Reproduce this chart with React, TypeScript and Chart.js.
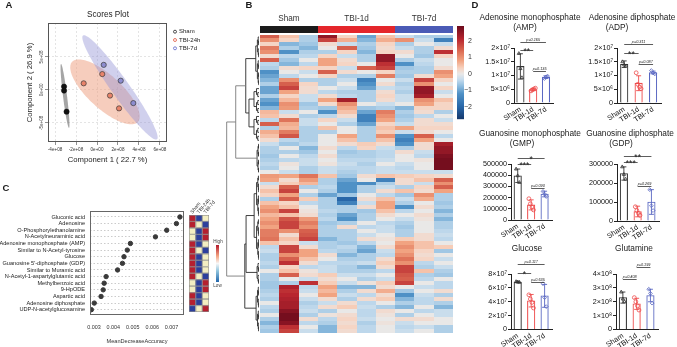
import React, { useEffect, useRef } from 'react';
import { Chart, registerables } from 'chart.js';

Chart.register(...registerables);
const FONT = "'Liberation Sans', Arial, Helvetica, sans-serif";
Chart.defaults.font.family = FONT;
Chart.defaults.color = '#222';

/* ---------------- Panel A : scores plot ---------------- */
const scoreGroups = ['Sham', 'TBI-24h', 'TBI-7d'];
const shamPC1 = [-3.14e8, -3.14e8, -2.9e8];
const shamPC2 = [0.5e8, -0.1e8, -3.3e8];
const tbi24PC1 = [-1.27e8, 0.5e8, 1.24e8, 2.1e8];
const tbi24PC2 = [1.0e8, 2.4e8, -0.86e8, -2.8e8];
const tbi7PC1 = [0.64e8, 2.26e8, 3.46e8];
const tbi7PC2 = [3.8e8, 1.4e8, -2.0e8];
// confidence ellipses: centre x, centre y, half-axis a (x, y), half-axis b (x, y) in data units
const shamEllipse = [-3.05e8, -0.91e8, 0.38e8, -4.85e8, 0.19e8, 0.04e8];
const tbi24Ellipse = [0.76e8, -0.3e8, 3.14e8, -4.55e8, 1.05e8, 1.89e8];
const tbi7Ellipse = [2.19e8, 0.38e8, 3.52e8, -7.88e8, 0.7e8, 0.79e8];
const scoreXRange = [-4.67e8, 6.67e8];
const scoreYRange = [-7.9e8, 10.15e8];
const scoreXTicks = [-4e8, -2e8, 0, 2e8, 4e8, 6e8];
const scoreYTicks = [-5e8, 0, 5e8];

/* ---------------- Panel B : heatmap ---------------- */
const heatGroups = ['Sham', 'TBI-1d', 'TBI-7d'];
const heatGroupSizes = [3, 4, 3];
const heatTop = [
  [1.5, 0.5, -0.5, 2.5, 0.3, -1.0, 0.5, -0.3, -0.5, -0.5],
  [1.0, 0.3, -0.5, 1.8, 0.7, -0.8, 0.7, 1.0, -0.3, -1.5],
  [0.3, -0.8, -0.6, 0.2, -0.3, -0.5, 0.3, -0.5, 0.0, -0.3],
  [1.2, -0.5, -0.8, 0.0, 1.5, -0.6, 0.2, -0.3, -0.5, 0.2],
  [1.0, -1.2, -0.5, -0.5, 0.3, -0.8, 0.3, 0.2, -0.5, 2.0],
  [0.2, -0.4, -0.4, 0.3, -0.3, -0.5, 2.5, 0.0, -0.6, 0.3],
  [1.5, -0.6, 0.0, 0.8, 0.2, -0.5, 2.5, -0.5, -0.3, 0.0],
  [-0.4, -0.8, -0.4, 0.8, 0.3, 0.0, 2.0, -1.2, -0.4, 0.0],
  [-0.5, 0.2, 0.3, 0.3, -0.3, 1.5, 1.8, -0.6, -0.5, 0.2],
  [-1.2, 0.0, -0.3, 1.5, 0.2, 0.0, 0.3, -0.5, -0.5, 1.0],
  [-1.0, -0.4, 0.0, 0.3, -0.5, -0.5, 1.2, -0.6, 0.2, 0.8],
  [-0.8, 1.0, -0.5, -0.5, -0.3, -1.5, 0.0, -0.3, 1.8, 0.3],
  [-0.5, 1.5, 0.3, -0.5, 0.0, -1.2, 0.2, -0.5, 1.0, 0.0],
  [-1.0, 1.8, 0.2, 0.0, -0.3, -1.0, -0.3, -0.4, 2.5, 0.3],
  [-1.0, 0.8, 0.2, -0.4, -0.5, -0.5, 0.2, -0.5, 2.5, -0.3],
  [-0.5, 0.3, -0.3, 0.2, -0.4, -0.5, 0.3, -0.3, 2.3, 0.0],
  [-1.0, 0.6, -0.3, 0.8, 2.3, -0.5, 0.2, -0.3, 1.0, 0.5],
  [-1.2, 1.0, -0.6, 0.2, 1.0, 0.0, -0.3, 0.0, 0.8, 0.3],
  [-0.8, 0.9, -0.5, -0.6, 0.7, -0.6, -0.5, -0.8, 0.3, 0.3],
  [0.6, -0.3, 0.0, -1.2, 0.5, -1.0, 1.2, -0.5, 0.2, -0.5],
  [0.5, 0.2, -0.5, -0.4, 0.2, -1.5, 1.0, -0.6, -0.4, 0.0],
  [-0.4, 1.3, -0.3, 0.3, -0.3, -1.5, 0.8, -0.5, 0.2, -0.3],
  [1.5, 0.7, -0.3, 0.0, -0.5, -1.0, 0.3, -0.3, 0.2, 0.2],
  [-0.5, 0.6, -0.5, 0.5, 0.0, -0.5, 0.5, 0.8, 0.3, 0.3],
  [0.7, 1.2, -0.5, -0.5, 0.0, -0.5, 0.4, -0.3, 0.2, 0.0],
];
const heatMid = [
  [0.5, 1.6, -0.5, 0.0, 0.8, -0.5, 1.0, -1.2, 1.5, -0.4],
  [0.2, -0.4, -0.5, 0.0, 0.5, -0.5, 0.5, -1.5, 0.8, 0.0],
  [-0.3, -0.6, -0.4, 0.0, 0.2, 0.4, 0.2, -1.2, 0.2, 2.3],
  [-0.5, 0.0, -0.8, 0.2, -0.4, 0.3, -0.3, -0.5, 0.2, 2.5],
  [-0.5, -0.5, -0.6, 0.0, -0.6, -0.5, -0.4, 0.2, -0.3, 2.5],
  [-0.6, 0.0, -0.4, 0.2, -0.5, -0.5, -0.4, 0.0, -0.4, 2.7],
  [-0.5, -0.4, -0.3, 0.0, -0.4, -0.4, -0.3, 0.0, 0.1, 2.8],
  [-0.4, 0.1, -0.3, 0.1, -0.3, -0.5, 0.0, -0.3, 0.0, 2.8],
  [-0.5, 0.0, -0.5, -0.3, -0.4, -0.4, -0.3, -0.4, 0.0, 2.8],
  [0.0, -0.3, -0.5, -0.3, -0.5, -0.4, -0.3, -0.3, -0.3, -0.3],
  [0.9, 0.8, 1.3, 0.5, -0.6, 0.2, 0.5, 0.4, 0.3, 0.2],
  [0.8, 0.2, 0.9, -0.5, -1.0, 0.0, -1.5, 0.2, 0.5, 1.5],
  [-0.3, 0.4, 0.6, -0.5, -1.2, -1.3, -0.5, 0.2, -0.3, 1.0],
  [0.2, 1.5, -0.5, -0.4, -1.2, -0.5, -0.3, -0.5, 0.3, 1.5],
  [0.5, 1.8, 0.0, -0.5, -1.2, -0.5, 0.2, 0.5, 0.2, 0.8],
  [0.3, 0.8, -0.5, -1.0, -0.6, 0.0, -0.4, -0.6, 1.0, -0.5],
  [-0.5, 1.5, 0.4, -0.5, -2.0, 0.2, 0.5, -0.3, 0.7, -0.5],
  [0.5, 0.3, -0.4, -0.5, -1.5, -0.3, 0.8, -0.5, 0.0, -0.6],
  [0.8, 0.5, 0.0, -0.5, -0.5, 0.2, 0.8, -1.2, 0.2, -0.5],
  [1.0, 1.8, 0.1, -0.4, -0.5, -0.6, 0.5, -0.4, 0.0, -0.8],
  [0.6, 0.5, 0.2, -0.5, -1.0, -0.5, 0.2, 0.0, 0.2, -0.5],
  [0.8, 1.6, 0.9, -0.4, -1.2, -0.5, 0.0, -0.3, 0.1, -0.8],
  [1.0, 1.8, 1.2, -0.6, -0.5, 0.0, -0.4, -0.5, 0.0, -0.5],
  [0.8, 1.8, 1.0, -0.5, 0.2, -0.4, -0.3, -0.6, 0.0, -0.5],
  [1.2, 1.0, 1.5, -0.5, -0.5, 0.0, -0.3, -0.5, 0.0, -0.4],
];
const heatBottom = [
  [1.2, 0.2, 1.6, -0.5, -0.5, -0.3, 0.0, -0.5, 0.2, -0.3],
  [1.3, 0.5, 1.8, -0.8, -0.5, 0.2, 0.1, 0.4, 0.2, -0.4],
  [0.5, 0.3, -0.3, -0.5, -0.6, -0.4, 0.0, 0.8, 0.5, 0.0],
  [-0.4, 1.8, 0.2, -0.5, -0.4, -0.8, 0.2, 1.0, 0.5, 0.4],
  [-0.3, 1.8, 0.8, -0.4, -0.5, -1.0, -0.3, 0.8, 0.3, -0.6],
  [-0.5, 1.0, 0.8, 0.2, -0.8, -0.5, -0.4, 1.0, 0.2, 0.0],
  [-0.5, 1.5, 0.5, 0.0, -0.5, -0.5, 0.2, 1.3, 0.3, -0.3],
  [-0.4, 2.0, 0.2, -0.4, -0.4, -0.3, 0.4, 1.0, -0.4, 0.0],
  [-0.5, 0.3, -0.4, -0.3, -0.5, -0.8, 0.2, 1.8, -0.5, -0.3],
  [0.0, 0.5, 0.1, -0.3, -0.5, -0.5, -0.4, 1.8, 0.5, -0.5],
  [-0.5, 1.5, 0.2, 0.4, -0.3, -0.3, 0.0, 1.6, -0.5, -0.6],
  [-0.5, 0.0, -0.3, 0.2, 0.0, -0.5, -0.3, 1.5, -0.4, 0.0],
  [-0.6, -0.5, 2.0, 0.4, -0.3, 0.1, 0.4, 1.8, 0.0, -0.4],
  [-0.6, 2.2, -0.4, 0.8, -0.8, -0.8, 0.2, 0.0, -0.3, -0.4],
  [-0.5, 2.0, -0.3, 0.6, -0.5, 0.2, 0.7, -0.6, 0.0, 0.2],
  [-0.4, 2.1, 0.0, 0.8, -0.3, -0.4, 0.2, -1.2, -0.3, -0.5],
  [-0.5, 2.2, -0.3, 0.2, -0.5, 0.2, 0.4, -0.8, -0.4, 0.2],
  [0.0, 2.3, -0.5, -0.3, 0.2, -0.4, 0.0, -0.5, -0.4, -0.5],
  [-0.4, 2.3, -0.4, 0.2, 0.4, -0.3, -0.5, -0.8, 0.0, -0.8],
  [-0.5, 2.6, -0.3, -0.5, 0.0, -0.4, 0.2, 0.0, -0.4, -0.3],
  [0.0, 2.8, -0.5, 0.1, 0.2, -0.4, 0.1, -0.5, 0.0, -0.3],
  [-0.5, 2.8, 0.2, -0.4, 0.3, -0.3, 0.0, 0.2, 0.2, 0.0],
  [-0.8, 2.6, -0.4, -0.5, 0.2, -0.5, 0.1, -0.3, 0.0, 0.0],
  [-0.5, 2.0, 0.0, -0.8, 0.3, -0.4, 0.0, -0.4, -0.3, -0.5],
  [-0.6, 1.8, -0.3, -0.8, 0.2, -0.4, 0.0, -0.3, 0.0, -0.5],
];
const heatLegendTicks = [2, 1, 0, -1, -2];
const heatRange = [-2.73, 2.9];
// dendrogram: [height, left, right] or [height, number of leaves in a tight cluster]
const dendroTree = [10, [7.2, [4.1, [1.0, 13], [3.1, 14]], [0.6, 8]], [4.4, [4.0, [1.5, 22], [0.6, 6]], [0.9, 12]]];
const dendroMaxHeight = 11.45;

/* ---------------- Panel C : random forest importance ---------------- */
const mdaNames = [
  'Gluconic acid', 'Adenosine', 'O-Phosphorylethanolamine', 'N-Acetylneuraminic acid',
  'Adenosine monophosphate (AMP)', 'Similar to N-Acetyl-tyrosine', 'Glucose',
  "Guanosine 5'-diphosphate (GDP)", 'Similar to Muramic acid', 'N-Acetyl-1-aspartylglutamic acid',
  'Methylbenzoic acid', '9-HpODE', 'Aspartic acid', 'Adenosine diphosphate', 'UDP-N-acetylglucosamine',
];
const mdaValues = [0.00743, 0.00725, 0.00675, 0.00617, 0.00488, 0.00472, 0.00455, 0.00447, 0.00422, 0.00363, 0.00353, 0.00348, 0.00337, 0.00302, 0.00287];
const mdaGroups = ['Sham', 'TBI-24h', 'TBI-7d'];
const mdaLevels = [
  [1, -1, 0], [1, 0, -1], [0, -1, 1], [0, -1, 1], [1, -1, 0], [1, 0, -1], [1, -1, 0], [1, -1, 0],
  [1, -1, 0], [1, 0, -1], [0, -1, 1], [0, -1, 1], [1, -1, 0], [1, -1, 0], [-1, 0, 1],
];
const mdaXRange = [0.0028, 0.00764];
const mdaXTicks = [0.003, 0.004, 0.005, 0.006, 0.007];

/* ---------------- Panel D : bar charts ---------------- */
const groupLabels = ['Sham', 'TBI-1d', 'TBI-7d'];

const ampMean = [1.33e7, 4.9e6, 9.4e6];
const ampSd = [4.6e6, 4e5, 5e5];
const ampSham = [1.8e7, 1.25e7, 9.2e6];
const amp1d = [4.4e6, 4.8e6, 5.1e6, 5.4e6];
const amp7d = [8.9e6, 9.4e6, 9.8e6];
const ampTicks = ['0', '5×10⁶', '1×10⁷', '1.5×10⁷', '2×10⁷'];
const ampStats = [[0, 2, 2.23e7, 'p=0.165'], [0, 1, 1.93e7, '**'], [1, 2, 1.16e7, 'p=0.135']];

const adpMean = [1.41e7, 7.2e6, 1.11e7];
const adpSd = [1.2e6, 2.7e6, 5e5];
const adpSham = [1.5e7, 1.38e7, 1.35e7];
const adp1d = [1.1e7, 6.8e6, 5.8e6, 5.2e6];
const adp7d = [1.18e7, 1.1e7, 1.06e7];
const adpTicks = ['0', '5×10⁶', '1×10⁷', '1.5×10⁷', '2×10⁷'];
const adpStats = [[0, 2, 2.13e7, 'p=0.311'], [0, 1, 1.83e7, '**'], [1, 2, 1.41e7, 'p=0.087']];

const gmpMean = [3.95e5, 1.35e5, 2.32e5];
const gmpSd = [6e4, 4.5e4, 2.5e4];
const gmpSham = [4.55e5, 3.95e5, 3.35e5];
const gmp1d = [1.9e5, 1.45e5, 1.15e5, 9e4];
const gmp7d = [2.55e5, 2.3e5, 2.1e5];
const gmpTicks = ['0', '100000', '200000', '300000', '400000', '500000'];
const gmpStats = [[0, 2, 5.5e5, '*'], [0, 1, 4.97e5, '***'], [1, 2, 2.88e5, 'p=0.090']];

const gdpMean = [2.5e5, 5e4, 1.0e5];
const gdpSd = [3.5e4, 2.8e4, 6.5e4];
const gdpSham = [2.85e5, 2.45e5, 2.2e5];
const gdp1d = [7.5e4, 5.5e4, 4e4, 3e4];
const gdp7d = [1.65e5, 8e4, 5.5e4];
const gdpTicks = ['0', '100000', '200000', '300000'];
const gdpStats = [[0, 2, 3.44e5, '**'], [0, 1, 3.12e5, '***'], [1, 2, 1.86e5, 'p=0.269']];

const glcMean = [6.85e7, 4.15e7, 4.85e7];
const glcSd = [1e6, 9e6, 1.65e7];
const glcSham = [6.9e7, 6.85e7, 6.8e7];
const glc1d = [5.0e7, 4.4e7, 3.9e7, 3.1e7];
const glc7d = [6.6e7, 4.6e7, 3.3e7];
const glcTicks = ['0', '2×10⁷', '4×10⁷', '6×10⁷', '8×10⁷'];
const glcStats = [[0, 2, 9.44e7, 'p=0.117'], [0, 1, 8.1e7, '*'], [1, 2, 6.8e7, 'p=0.635']];

const glnMean = [2.3e8, 1.85e8, 2.45e8];
const glnSd = [4e7, 4e7, 4.5e7];
const glnSham = [2.7e8, 2.2e8, 2.0e8];
const gln1d = [2.3e8, 2.0e8, 1.7e8, 1.4e8];
const gln7d = [2.9e8, 2.6e8, 1.9e8];
const glnTicks = ['0', '1×10⁸', '2×10⁸', '3×10⁸', '4×10⁸'];
const glnStats = [[0, 1, 3.61e8, 'p=0.408'], [1, 2, 4.47e8, 'p=0.199']];

/* ---------------- helpers ---------------- */
type Box = { l: number; t: number; w: number; h: number };
type Area = { l: number; t: number; r: number; b: number };

function pad(box: Box, area: Area, yW = 0, xH = 0) {
  return {
    left: area.l - box.l - yW,
    top: area.t - box.t,
    right: box.l + box.w - area.r,
    bottom: box.t + box.h - area.b - xH,
  };
}
function base(padding: any) {
  return {
    responsive: false,
    animation: false,
    devicePixelRatio: 1,
    events: [],
    layout: { padding },
    plugins: { legend: { display: false }, tooltip: { enabled: false } },
  };
}
const fixTicks = (values: number[]) => (s: any) => {
  s.ticks = values.map((v) => ({ value: v }));
};
const framePlugin = (color: string) => ({
  id: 'frame',
  afterDraw(chart: any) {
    const { ctx, chartArea: a } = chart;
    ctx.save();
    ctx.strokeStyle = color;
    ctx.lineWidth = 1;
    ctx.strokeRect(Math.round(a.left) + 0.5, Math.round(a.top) + 0.5, Math.round(a.right - a.left) - 1, Math.round(a.bottom - a.top) - 1);
    ctx.restore();
  },
});

// diverging colour ramp (value stop -> colour)
const rampStops = [-2.73, -2.0, -1.2, -0.7, -0.35, 0, 0.35, 0.8, 1.4, 2.1, 2.9];
const rampColors = ['#15396d', '#2866a8', '#4f91c6', '#93bfe0', '#c4dbed', '#e9e8e7', '#f7d2bf', '#f1a381', '#db6a52', '#b8262f', '#6b0a1c'];
function hex(h: string) {
  return [parseInt(h.slice(1, 3), 16), parseInt(h.slice(3, 5), 16), parseInt(h.slice(5, 7), 16)];
}
function heatColor(v: number) {
  const x = Math.max(rampStops[0], Math.min(rampStops[rampStops.length - 1], v));
  let i = 0;
  while (i < rampStops.length - 2 && x > rampStops[i + 1]) i++;
  const u = (x - rampStops[i]) / (rampStops[i + 1] - rampStops[i]);
  const a = hex(rampColors[i]);
  const b = hex(rampColors[i + 1]);
  const c = a.map((q, k) => Math.round(q + (b[k] - q) * u));
  return `rgb(${c[0]},${c[1]},${c[2]})`;
}

function sciLabel(v: number) {
  if (Math.abs(v) < 1) return '0e+00';
  const e = Math.floor(Math.log10(Math.abs(v)) + 1e-9);
  const m = Math.round(v / Math.pow(10, e));
  return `${m}e+${e < 10 ? '0' : ''}${e}`;
}

/* ---------------- Panel A config ---------------- */
function scoresConfig(box: Box, area: Area) {
  const yW = 27;
  const xH = 26;
  const pts = (xs: number[], ys: number[]) => xs.map((v, i) => ({ x: v, y: ys[i] }));
  const ellipses = [
    { p: shamEllipse, fill: 'rgba(105,105,105,0.6)' },
    { p: tbi24Ellipse, fill: 'rgba(238,160,128,0.52)' },
    { p: tbi7Ellipse, fill: 'rgba(150,150,215,0.45)' },
  ];
  const legendColors = ['#222', '#e0563c', '#5a64c8'];
  return {
    type: 'scatter',
    data: {
      datasets: [
        { label: scoreGroups[0], data: pts(shamPC1, shamPC2), backgroundColor: '#111', borderColor: '#111', pointRadius: 2.6, borderWidth: 0.6 },
        { label: scoreGroups[1], data: pts(tbi24PC1, tbi24PC2), backgroundColor: '#e8836a', borderColor: '#3a3a3a', pointRadius: 2.6, borderWidth: 0.7 },
        { label: scoreGroups[2], data: pts(tbi7PC1, tbi7PC2), backgroundColor: '#8d8dd0', borderColor: '#3a3a3a', pointRadius: 2.6, borderWidth: 0.7 },
      ],
    },
    options: {
      ...base(pad(box, area, yW, xH)),
      scales: {
        x: {
          type: 'linear', min: scoreXRange[0], max: scoreXRange[1],
          afterBuildTicks: fixTicks(scoreXTicks),
          afterFit: (s: any) => { s.height = xH; },
          grid: { color: '#d2d2d2', tickColor: '#444', tickLength: 3, lineWidth: 0.6 },
          border: { display: false, dash: [2, 2] },
          ticks: { autoSkip: false, font: { size: 4.6 }, color: '#333', padding: 1.5, maxRotation: 0, callback: (v: number) => sciLabel(v) },
          title: { display: true, text: 'Component 1 ( 22.7 %)', font: { size: 7.7 }, color: '#222', padding: { top: 0, bottom: 3 } },
        },
        y: {
          type: 'linear', min: scoreYRange[0], max: scoreYRange[1],
          afterBuildTicks: fixTicks(scoreYTicks),
          afterFit: (s: any) => { s.width = yW; },
          grid: { color: '#d2d2d2', tickColor: '#444', tickLength: 3, lineWidth: 0.6 },
          border: { display: false, dash: [2, 2] },
          ticks: { autoSkip: false, font: { size: 4.6 }, color: '#333', padding: -4, minRotation: 90, maxRotation: 90, crossAlign: 'center', callback: (v: number) => sciLabel(v) },
          title: { display: true, text: 'Component 2 ( 26.9 %)', font: { size: 7.7 }, color: '#222', padding: { top: 4, bottom: 0 } },
        },
      },
    },
    plugins: [
      {
        id: 'ellipses',
        beforeDatasetsDraw(chart: any) {
          const { ctx, chartArea: a, scales } = chart;
          ctx.save();
          ctx.beginPath();
          ctx.rect(a.left, a.top, a.right - a.left, a.bottom - a.top);
          ctx.clip();
          for (const e of ellipses) {
            const [cx, cy, ax, ay, bx, by] = e.p;
            ctx.beginPath();
            for (let k = 0; k <= 120; k++) {
              const t = (k / 120) * Math.PI * 2;
              const px = scales.x.getPixelForValue(cx + ax * Math.cos(t) + bx * Math.sin(t));
              const py = scales.y.getPixelForValue(cy + ay * Math.cos(t) + by * Math.sin(t));
              if (k === 0) ctx.moveTo(px, py); else ctx.lineTo(px, py);
            }
            ctx.closePath();
            ctx.fillStyle = e.fill;
            ctx.fill();
          }
          ctx.restore();
        },
      },
      framePlugin('#555'),
      {
        id: 'scoreLegend',
        afterDraw(chart: any) {
          const { ctx, chartArea: a } = chart;
          ctx.save();
          ctx.font = `6px ${FONT}`;
          ctx.textBaseline = 'middle';
          ctx.textAlign = 'left';
          scoreGroups.forEach((g, i) => {
            const y = a.top + 8.7 + i * 8.3;
            ctx.beginPath();
            ctx.arc(a.right + 8, y, 1.5, 0, Math.PI * 2);
            ctx.strokeStyle = legendColors[i];
            ctx.lineWidth = 0.8;
            ctx.stroke();
            ctx.fillStyle = '#222';
            ctx.fillText(g, a.right + 12, y);
          });
          ctx.restore();
        },
      },
    ],
  };
}

/* ---------------- Panel B configs ---------------- */
function heatConfig(box: Box, area: Area) {
  const rows = [...heatTop, ...heatMid, ...heatBottom];
  const nCol = heatGroupSizes.reduce((s, v) => s + v, 0);
  const groupColors = ['#1b1b1b', '#e4262b', '#4b5bb6'];
  return {
    type: 'scatter',
    data: { datasets: [] },
    options: {
      ...base(pad(box, area)),
      scales: {
        x: { type: 'linear', display: false, min: 0, max: nCol },
        y: { type: 'linear', display: false, min: 0, max: rows.length, reverse: true },
      },
    },
    plugins: [
      {
        id: 'heat',
        afterDraw(chart: any) {
          const { ctx, chartArea: a, scales } = chart;
          const xs = scales.x;
          const ys = scales.y;
          ctx.save();
          rows.forEach((row, r) => {
            const y0 = Math.floor(ys.getPixelForValue(r));
            const y1 = Math.ceil(ys.getPixelForValue(r + 1));
            row.forEach((v, c) => {
              const x0 = Math.round(xs.getPixelForValue(c));
              const x1 = Math.round(xs.getPixelForValue(c + 1));
              ctx.fillStyle = heatColor(v);
              ctx.fillRect(x0, y0, x1 - x0, y1 - y0);
            });
          });
          // group annotation bar
          let c0 = 0;
          heatGroups.forEach((g, i) => {
            const c1 = c0 + heatGroupSizes[i];
            const x0 = Math.round(xs.getPixelForValue(c0));
            const x1 = Math.round(xs.getPixelForValue(c1));
            ctx.fillStyle = groupColors[i];
            ctx.fillRect(x0, a.top - 9, x1 - x0, 7);
            ctx.fillStyle = '#333';
            ctx.font = `8.2px ${FONT}`;
            ctx.textAlign = 'center';
            ctx.textBaseline = 'middle';
            ctx.fillText(g, (x0 + x1) / 2, a.top - 16);
            c0 = c1;
          });
          // colour key
          const kx = a.right + 4;
          const kTop = a.top - 9;
          const kH = 93;
          const [lo, hi] = heatRange;
          for (let p = 0; p < kH; p++) {
            const v = hi - ((p + 0.5) / kH) * (hi - lo);
            ctx.fillStyle = heatColor(v);
            ctx.fillRect(kx, kTop + p, 7, 1.2);
          }
          ctx.fillStyle = '#333';
          ctx.font = `7px ${FONT}`;
          ctx.textAlign = 'right';
          ctx.textBaseline = 'middle';
          heatLegendTicks.forEach((t) => {
            const py = kTop + ((hi - t) / (hi - lo)) * kH;
            ctx.fillText(t < 0 ? `\u2212${-t}` : `${t}`, kx + 15, py);
          });
          ctx.restore();
        },
      },
    ],
  };
}

type DRes = { pos: number; h: number; end: number };
function joinNodes(h: number, l: DRes, r: DRes, segs: number[][]) {
  segs.push([h, l.pos, h, r.pos]);
  segs.push([l.h, l.pos, h, l.pos]);
  segs.push([r.h, r.pos, h, r.pos]);
}
function leafGroup(n: number, h: number, start: number, segs: number[][]): DRes {
  if (n === 1) return { pos: start + 0.5, h: 0, end: start + 1 };
  const nl = Math.floor(n / 2);
  const l = leafGroup(nl, nl > 1 ? h * 0.5 : 0, start, segs);
  const r = leafGroup(n - nl, n - nl > 1 ? h * 0.5 : 0, start + nl, segs);
  joinNodes(h, l, r, segs);
  return { pos: (l.pos + r.pos) / 2, h, end: r.end };
}
function buildDendro(node: any, start: number, segs: number[][]): DRes {
  if (node.length === 2 && typeof node[1] === 'number') return leafGroup(node[1], node[0], start, segs);
  const l = buildDendro(node[1], start, segs);
  const r = buildDendro(node[2], l.end, segs);
  joinNodes(node[0], l, r, segs);
  return { pos: (l.pos + r.pos) / 2, h: node[0], end: r.end };
}
function dendroConfig(box: Box) {
  const segs: number[][] = [];
  const res = buildDendro(dendroTree, 0, segs);
  return {
    type: 'scatter',
    data: { datasets: [] },
    options: {
      ...base(0),
      scales: {
        x: { type: 'linear', display: false, min: 0, max: dendroMaxHeight, reverse: true },
        y: { type: 'linear', display: false, min: 0, max: res.end, reverse: true },
      },
    },
    plugins: [
      {
        id: 'dendro',
        afterDraw(chart: any) {
          const { ctx, scales } = chart;
          ctx.save();
          ctx.lineWidth = 0.9;
          segs.forEach((s) => {
            ctx.strokeStyle = Math.max(s[0], s[2]) > 5 ? '#7a7a7a' : '#2a2a2a';
            ctx.beginPath();
            ctx.moveTo(scales.x.getPixelForValue(s[0]), scales.y.getPixelForValue(s[1]));
            ctx.lineTo(scales.x.getPixelForValue(s[2]), scales.y.getPixelForValue(s[3]));
            ctx.stroke();
          });
          ctx.restore();
        },
      },
    ],
  };
}

/* ---------------- Panel C configs ---------------- */
function mdaConfig(box: Box, area: Area) {
  const yW = area.l - box.l;
  const xH = box.t + box.h - area.b;
  return {
    type: 'scatter',
    data: {
      datasets: [
        { data: mdaValues.map((v, i) => ({ x: v, y: i })), backgroundColor: '#3a3a3a', borderColor: '#3a3a3a', pointRadius: 2.2 },
      ],
    },
    options: {
      ...base(pad(box, area, yW, xH)),
      scales: {
        x: {
          type: 'linear', min: mdaXRange[0], max: mdaXRange[1],
          afterBuildTicks: fixTicks(mdaXTicks),
          afterFit: (s: any) => { s.height = xH; },
          grid: { display: false, drawTicks: false, tickLength: 0 },
          border: { display: false },
          ticks: { autoSkip: false, font: { size: 5.4 }, color: '#333', padding: 9, maxRotation: 0, callback: (v: number) => v.toFixed(3) },
          title: { display: true, text: 'MeanDecreaseAccuracy', font: { size: 5.6 }, color: '#333', padding: { top: 0, bottom: 2 } },
        },
        y: {
          type: 'linear', min: -0.9, max: 14.8, reverse: true,
          afterBuildTicks: fixTicks(mdaNames.map((_n, i) => i)),
          afterFit: (s: any) => { s.width = yW; },
          grid: { color: '#a8a8a8', drawTicks: false, tickLength: 0, lineWidth: 0.6 },
          border: { display: false, dash: [1.5, 2] },
          ticks: { autoSkip: false, font: { size: 5.6 }, color: '#222', padding: 5, callback: (v: number) => mdaNames[v] ?? '' },
        },
      },
    },
    plugins: [framePlugin('#666')],
  };
}

function mdaHeatConfig(box: Box, area: Area) {
  const levelColors: Record<string, string> = { '1': '#b5202f', '0': '#f3eec2', '-1': '#2c3f9c' };
  return {
    type: 'scatter',
    data: { datasets: [] },
    options: {
      ...base(pad(box, area)),
      scales: {
        x: { type: 'linear', display: false, min: 0, max: mdaGroups.length },
        y: { type: 'linear', display: false, min: -0.5, max: mdaLevels.length - 0.5, reverse: true },
      },
    },
    plugins: [
      {
        id: 'mdaHeat',
        afterDraw(chart: any) {
          const { ctx, chartArea: a, scales } = chart;
          const xs = scales.x;
          const ys = scales.y;
          ctx.save();
          mdaLevels.forEach((row, r) => {
            const y0 = ys.getPixelForValue(r - 0.5);
            const y1 = ys.getPixelForValue(r + 0.5);
            row.forEach((lv, c) => {
              const x0 = xs.getPixelForValue(c);
              const x1 = xs.getPixelForValue(c + 1);
              ctx.fillStyle = levelColors[String(lv)];
              ctx.fillRect(x0, y0, x1 - x0, y1 - y0);
              ctx.strokeStyle = '#8c8c8c';
              ctx.lineWidth = 0.6;
              ctx.strokeRect(x0 + 0.3, y0 + 0.3, x1 - x0 - 0.6, y1 - y0 - 0.6);
            });
          });
          ctx.fillStyle = '#333';
          ctx.font = `5px ${FONT}`;
          ctx.textAlign = 'left';
          ctx.textBaseline = 'middle';
          mdaGroups.forEach((g, c) => {
            ctx.save();
            ctx.translate(xs.getPixelForValue(c + 0.5) - 1, a.top - 2);
            ctx.rotate((-50 * Math.PI) / 180);
            ctx.fillText(g, 0, 0);
            ctx.restore();
          });
          // colour key High / Low
          const kx = a.right + 7;
          const kTop = a.top + 30;
          const kH = 37;
          const grad = ctx.createLinearGradient(0, kTop, 0, kTop + kH);
          grad.addColorStop(0, '#b2182b');
          grad.addColorStop(0.3, '#f4a582');
          grad.addColorStop(0.5, '#f7f7f7');
          grad.addColorStop(0.7, '#92c5de');
          grad.addColorStop(1, '#2166ac');
          ctx.fillStyle = grad;
          ctx.fillRect(kx, kTop, 3, kH);
          ctx.fillStyle = '#444';
          ctx.font = `4.6px ${FONT}`;
          ctx.textAlign = 'center';
          ctx.textBaseline = 'bottom';
          ctx.fillText('High', kx + 2, kTop - 1);
          ctx.textBaseline = 'top';
          ctx.fillText('Low', kx + 1.5, kTop + kH + 1);
          ctx.restore();
        },
      },
    ],
  };
}

/* ---------------- Panel D config ---------------- */
const groupColors = ['#333333', '#ee4b4b', '#5967c2'];
const groupMarkers = ['triangle', 'circle', 'rectRot'];

type BarSpec = {
  box: Box; area: Area; mean: number[]; sd: number[]; points: number[][];
  step: number; ticks: string[]; stats: any[];
};
function barConfig(s: BarSpec) {
  const yW = s.area.l - s.box.l;
  const xH = s.box.t + s.box.h - s.area.b;
  const yTicks = s.ticks.map((_t, i) => i * s.step);
  const spread = (n: number) => (n === 4 ? [-0.17, -0.06, 0.06, 0.17] : [-0.12, 0, 0.12]);
  const pointSets = s.points.map((arr, g) => ({
    type: 'scatter',
    data: arr.map((v, k) => ({ x: g + spread(arr.length)[k], y: v })),
    pointStyle: groupMarkers[g],
    pointRadius: 1.9,
    backgroundColor: 'rgba(255,255,255,0)',
    borderColor: groupColors[g],
    borderWidth: 0.8,
    clip: false,
    order: 0,
  }));
  return {
    type: 'bar',
    data: {
      datasets: [
        {
          type: 'bar',
          data: s.mean.map((m, i) => ({ x: i, y: m })),
          backgroundColor: '#ffffff',
          borderColor: groupColors,
          borderWidth: 1.1,
          barThickness: 7.5,
          order: 2,
        },
        ...pointSets,
      ],
    },
    options: {
      ...base(pad(s.box, s.area, yW, xH)),
      scales: {
        x: {
          type: 'linear', offset: false, min: -0.5, max: 2.55,
          afterBuildTicks: fixTicks([0, 1, 2]),
          afterFit: (sc: any) => { sc.height = xH; },
          grid: { display: false, offset: false, drawTicks: false, tickLength: 0 },
          border: { display: true, color: '#222', width: 1 },
          ticks: { autoSkip: false, minRotation: 33, maxRotation: 33, padding: 2, font: { size: 7.3 }, color: '#111', callback: (v: number) => groupLabels[v] ?? '' },
        },
        y: {
          type: 'linear', min: 0, max: yTicks[yTicks.length - 1],
          afterBuildTicks: fixTicks(yTicks),
          afterFit: (sc: any) => { sc.width = yW; },
          grid: { drawOnChartArea: false, drawTicks: true, tickLength: 3, color: '#222' },
          border: { display: true, color: '#222', width: 1 },
          ticks: { autoSkip: false, font: { size: 7.2 }, color: '#111', padding: 1, callback: (_v: number, i: number) => s.ticks[i] },
        },
      },
    },
    plugins: [
      {
        id: 'barExtras',
        afterDatasetsDraw(chart: any) {
          const { ctx, scales } = chart;
          const xs = scales.x;
          const ys = scales.y;
          ctx.save();
          // error bars (mean ± SD)
          s.mean.forEach((m, i) => {
            const px = xs.getPixelForValue(i);
            const top = ys.getPixelForValue(m + s.sd[i]);
            const bot = ys.getPixelForValue(m - s.sd[i]);
            ctx.strokeStyle = groupColors[i];
            ctx.lineWidth = 0.9;
            ctx.beginPath();
            ctx.moveTo(px, top); ctx.lineTo(px, bot);
            ctx.moveTo(px - 2.5, top); ctx.lineTo(px + 2.5, top);
            ctx.moveTo(px - 2.5, bot); ctx.lineTo(px + 2.5, bot);
            ctx.stroke();
          });
          // significance brackets
          s.stats.forEach(([i, j, yv, label]) => {
            const x1 = xs.getPixelForValue(i);
            const x2 = xs.getPixelForValue(j);
            const py = Math.round(ys.getPixelForValue(yv)) + 0.5;
            ctx.strokeStyle = '#333';
            ctx.lineWidth = 0.8;
            ctx.beginPath();
            ctx.moveTo(x1, py); ctx.lineTo(x2, py);
            ctx.stroke();
            ctx.fillStyle = '#222';
            ctx.textAlign = 'center';
            ctx.textBaseline = 'alphabetic';
            if (String(label).startsWith('p')) {
              ctx.font = `italic 3.8px ${FONT}`;
              ctx.fillText(label, (x1 + x2) / 2, py - 1.6);
            } else {
              ctx.font = `8.5px ${FONT}`;
              ctx.fillText(label, (x1 + x2) / 2, py + 3.2);
            }
          });
          ctx.restore();
        },
      },
    ],
  };
}

/* ---------------- React parts ---------------- */
function ChartBox({ box, build }: { box: Box; build: () => any }) {
  const ref = useRef<HTMLCanvasElement | null>(null);
  useEffect(() => {
    if (!ref.current) return undefined;
    const chart = new Chart(ref.current, build());
    return () => chart.destroy();
  }, []);
  return (
    <canvas
      ref={ref}
      width={box.w}
      height={box.h}
      style={{ position: 'absolute', left: box.l, top: box.t, width: box.w, height: box.h }}
    />
  );
}

function Label({ x, y, text, size, bold }: { x: number; y: number; text: string; size: number; bold?: boolean }) {
  return (
    <div
      style={{
        position: 'absolute', left: x, top: y, transform: 'translate(-50%, -50%)',
        fontSize: size, lineHeight: 1, whiteSpace: 'nowrap', fontFamily: FONT,
        fontWeight: bold ? 700 : 400, color: '#1a1a1a',
      }}
    >
      {text}
    </div>
  );
}

const boxA: Box = { l: 0, t: 0, w: 230, h: 175 };
const areaA: Area = { l: 48, t: 23, r: 167, b: 142 };
const boxB: Box = { l: 226, t: 0, w: 260, h: 347 };
const areaB: Area = { l: 260, t: 35, r: 453, b: 333 };
const boxDendro: Box = { l: 222, t: 35, w: 37, h: 298 };
const boxC: Box = { l: 0, t: 175, w: 189, h: 172 };
const areaC: Area = { l: 90, t: 211, r: 187, b: 315 };
const boxCH: Box = { l: 185, t: 190, w: 45, h: 130 };
const areaCH: Area = { l: 189, t: 215, r: 209, b: 312 };

const barSpecs: BarSpec[] = [
  { box: { l: 480, t: 30, w: 100, h: 95 }, area: { l: 514, t: 48, r: 553, b: 103 }, mean: ampMean, sd: ampSd, points: [ampSham, amp1d, amp7d], step: 5e6, ticks: ampTicks, stats: ampStats },
  { box: { l: 582, t: 30, w: 95, h: 95 }, area: { l: 617, t: 48, r: 661, b: 103 }, mean: adpMean, sd: adpSd, points: [adpSham, adp1d, adp7d], step: 5e6, ticks: adpTicks, stats: adpStats },
  { box: { l: 480, t: 145, w: 100, h: 100 }, area: { l: 511, t: 164, r: 552, b: 220 }, mean: gmpMean, sd: gmpSd, points: [gmpSham, gmp1d, gmp7d], step: 1e5, ticks: gmpTicks, stats: gmpStats },
  { box: { l: 582, t: 145, w: 95, h: 100 }, area: { l: 617, t: 164, r: 659, b: 221 }, mean: gdpMean, sd: gdpSd, points: [gdpSham, gdp1d, gdp7d], step: 1e5, ticks: gdpTicks, stats: gdpStats },
  { box: { l: 480, t: 254, w: 100, h: 93 }, area: { l: 511, t: 274, r: 552, b: 329.5 }, mean: glcMean, sd: glcSd, points: [glcSham, glc1d, glc7d], step: 2e7, ticks: glcTicks, stats: glcStats },
  { box: { l: 582, t: 254, w: 95, h: 93 }, area: { l: 616, t: 274, r: 658, b: 329.5 }, mean: glnMean, sd: glnSd, points: [glnSham, gln1d, gln7d], step: 1e8, ticks: glnTicks, stats: glnStats },
];

export default function App() {
  return (
    <div style={{ position: 'absolute', left: 0, top: 0, width: 677, height: 347, background: '#fff', overflow: 'hidden', fontFamily: FONT }}>
      <ChartBox box={boxA} build={() => scoresConfig(boxA, areaA)} />
      <ChartBox box={boxC} build={() => mdaConfig(boxC, areaC)} />
      <ChartBox box={boxCH} build={() => mdaHeatConfig(boxCH, areaCH)} />
      <ChartBox box={boxB} build={() => heatConfig(boxB, areaB)} />
      <ChartBox box={boxDendro} build={() => dendroConfig(boxDendro)} />
      {barSpecs.map((s, i) => (
        <ChartBox key={i} box={s.box} build={() => barConfig(s)} />
      ))}

      <Label x={9} y={5} text="A" size={9.5} bold />
      <Label x={249} y={4.5} text="B" size={9.5} bold />
      <Label x={6} y={188} text="C" size={9.5} bold />
      <Label x={475} y={4.5} text="D" size={9.5} bold />
      <Label x={108} y={15} text="Scores Plot" size={8.2} />

      <Label x={530} y={17} text="Adenosine monophosphate" size={8.3} />
      <Label x={525} y={27} text="(AMP)" size={8.3} />
      <Label x={632} y={17} text="Adenosine diphosphate" size={8.3} />
      <Label x={617} y={27} text="(ADP)" size={8.3} />
      <Label x={530} y={133} text="Guanosine monophosphate" size={8.3} />
      <Label x={522} y={143} text="(GMP)" size={8.3} />
      <Label x={630} y={133} text="Guanosine diphosphate" size={8.3} />
      <Label x={621} y={143} text="(GDP)" size={8.3} />
      <Label x={527} y={248} text="Glucose" size={8.3} />
      <Label x={634} y={248} text="Glutamine" size={8.3} />
    </div>
  );
}
